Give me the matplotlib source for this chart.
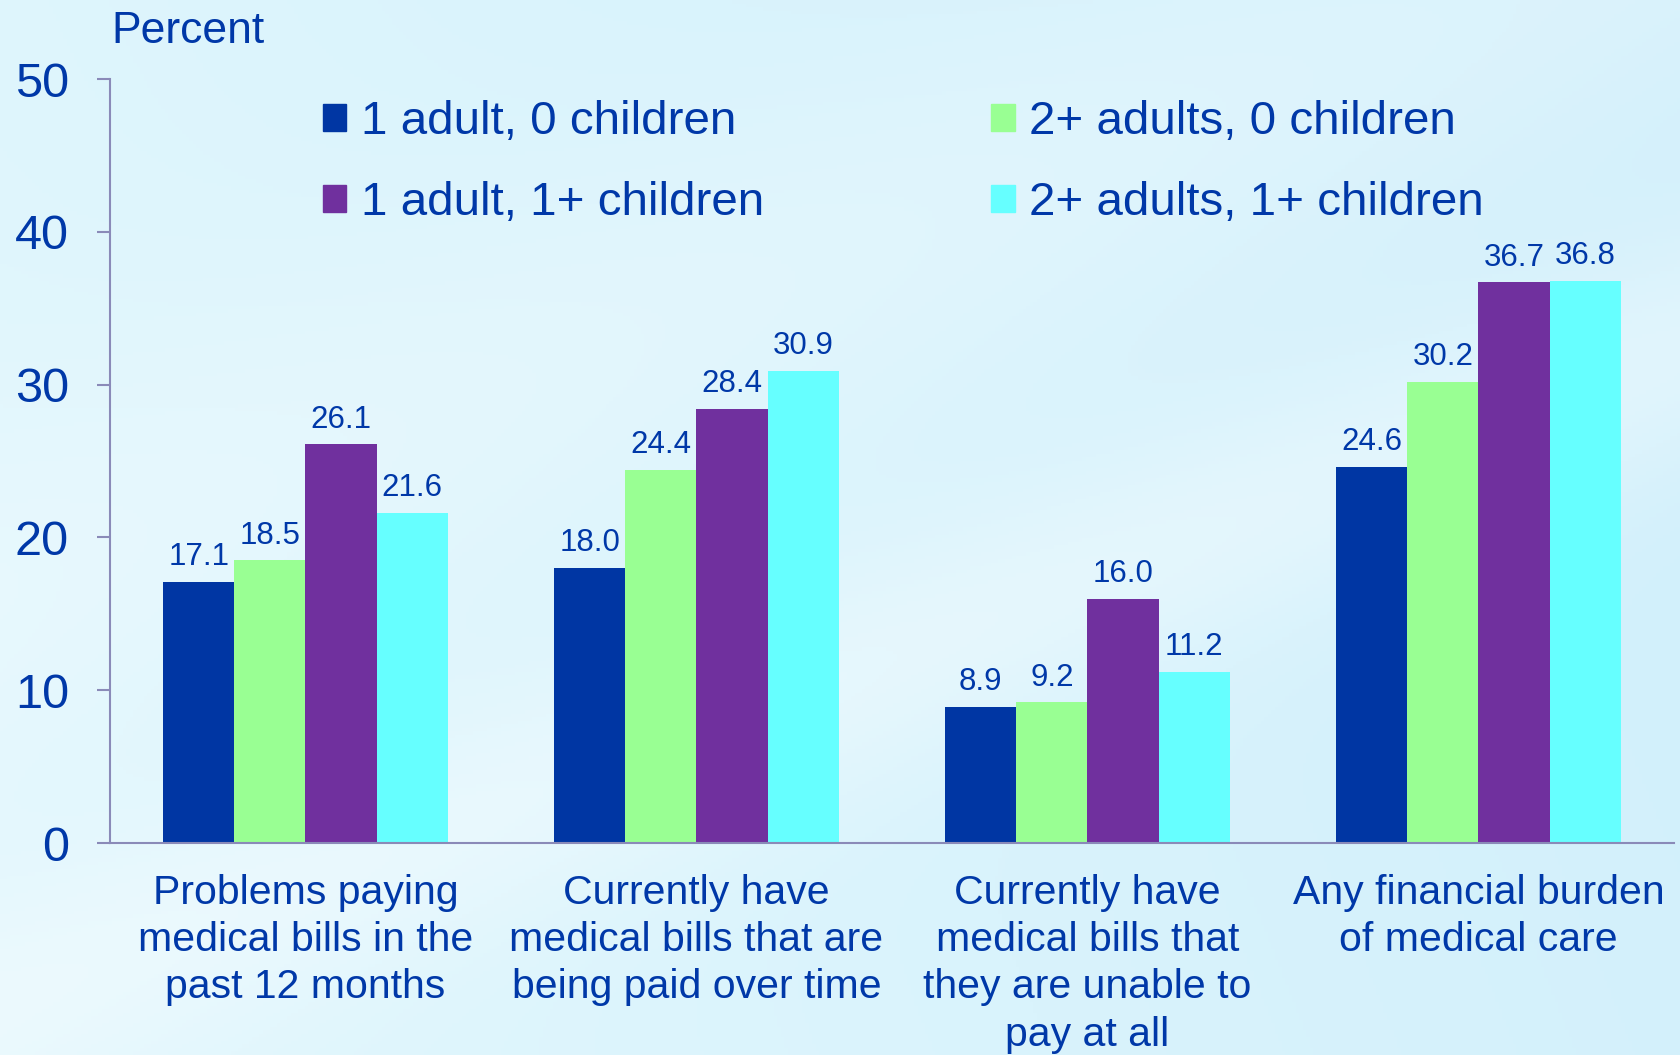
import numpy as np
import matplotlib
matplotlib.use("Agg")
import matplotlib.pyplot as plt
from matplotlib.patches import Patch

plt.rcParams['font.family'] = ['Liberation Sans', 'DejaVu Sans']

# data
categories = ["Problems paying\nmedical bills in the\npast 12 months",
              "Currently have\nmedical bills that are\nbeing paid over time",
              "Currently have\nmedical bills that\nthey are unable to\npay at all",
              "Any financial burden\nof medical care"]
series = ["1 adult, 0 children", "2+ adults, 0 children",
          "1 adult, 1+ children", "2+ adults, 1+ children"]
v_1a_0c = [17.1, 18.0, 8.9, 24.6]
v_2a_0c = [18.5, 24.4, 9.2, 30.2]
v_1a_1c = [26.1, 28.4, 16.0, 36.7]
v_2a_1c = [21.6, 30.9, 11.2, 36.8]
values = [v_1a_0c, v_2a_0c, v_1a_1c, v_2a_1c]
colors = ["#0036A3", "#99FF93", "#70309E", "#66FFFF"]
txt = "#0038A8"

fig = plt.figure(figsize=(16.81, 10.55), dpi=100)

# background gradient
bg = fig.add_axes([0, 0, 1, 1], zorder=0)
h, w = 300, 480
yy, xx = np.mgrid[0:h, 0:w]
xn = xx / w
yn = yy / h
base_top = np.array([226, 247, 253]) / 255
base_right = np.array([208, 239, 251]) / 255
t = np.clip(xn * 0.8 + (1 - yn) * 0.2, 0, 1)[..., None]
img = base_top * (1 - t) + base_right * t
d = xn * 0.62 + yn * 1.0
band = np.exp(-((d - 0.95) / 0.12) ** 2) * 0.6 + np.exp(-((d - 0.55) / 0.2) ** 2) * 0.4
img = img + (1 - img) * band[..., None] * 0.55
bg.imshow(np.clip(img, 0, 1), aspect='auto', extent=[0, 1, 0, 1])
bg.axis('off')

ax = fig.add_axes([0.0654, 0.2009, 0.9304, 0.7242], zorder=1)
ax.patch.set_alpha(0)

x = np.arange(len(categories))
bw = 0.182
for i, (vals, col) in enumerate(zip(values, colors)):
    pos = x + (i - 1.5) * bw
    bars = ax.bar(pos, vals, width=bw, color=col, label=series[i], zorder=2)
    for b, v in zip(bars, vals):
        ax.annotate(f"{v:.1f}", (b.get_x() + b.get_width() / 2, v),
                    xytext=(0, 7), textcoords='offset points',
                    ha='center', va='bottom', fontsize=22.5, color=txt)

ax.set_xlim(-0.5, 3.5)
ax.set_ylim(0, 50)
ax.set_yticks(range(0, 51, 10))
ax.tick_params(axis='y', labelsize=35, colors='#8A8AB8', labelcolor=txt,
               length=9.5, width=1.5, pad=20)
ax.set_xticks(x)
ax.set_xticklabels(categories, fontsize=29.5, color=txt, linespacing=1.31)
ax.tick_params(axis='x', length=0, pad=22)
for s in ['top', 'right']:
    ax.spines[s].set_visible(False)
for s in ['left', 'bottom']:
    ax.spines[s].set_color('#8A8AB8')
    ax.spines[s].set_linewidth(1.5)

ax.text(0.001, 1.035, "Percent", transform=ax.transAxes, fontsize=32,
        color=txt, ha='left', va='bottom')

handles = [Patch(color=c) for c in colors]
order = [0, 2, 1, 3]
leg = ax.legend([handles[i] for i in order], [series[i] for i in order],
                ncol=2, loc='upper left', bbox_to_anchor=(0.136, 0.972),
                frameon=False, fontsize=34.2, labelcolor=txt,
                handlelength=0.5, handleheight=0.5, handletextpad=0.3,
                columnspacing=4.78, labelspacing=0.78, borderpad=0,
                borderaxespad=0)

fig.savefig("out.png", dpi=100)
